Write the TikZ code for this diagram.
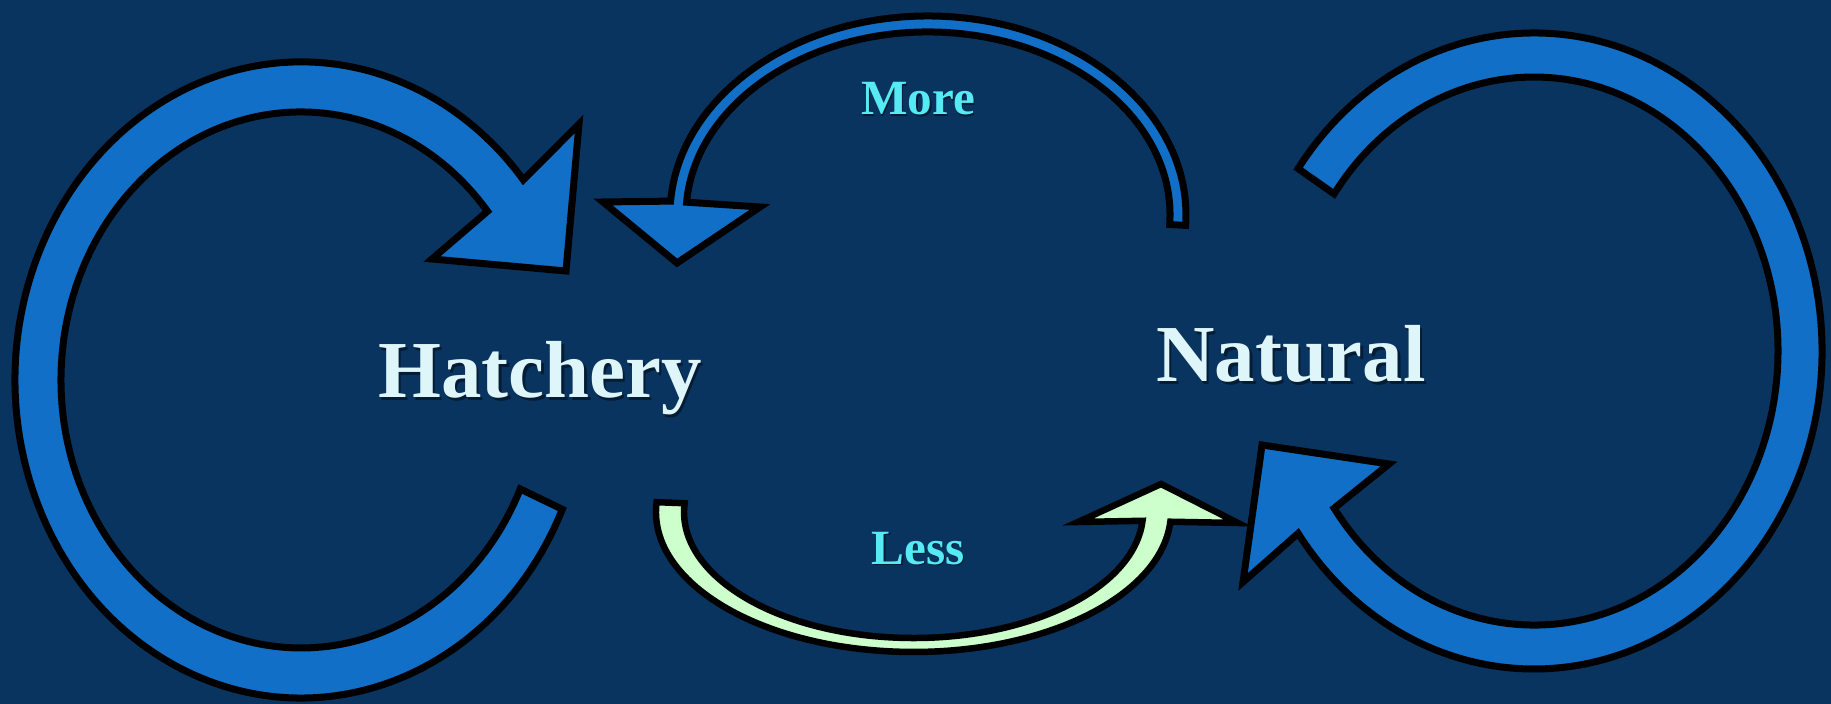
\documentclass[tikz,border=0pt]{standalone}
\usepackage{fontspec}
\setmainfont{Liberation Serif}
\definecolor{bgcol}{RGB}{9,52,96}
\definecolor{ringblue}{RGB}{17,111,199}
\definecolor{lessgreen}{RGB}{204,255,204}
\definecolor{labeltxt}{RGB}{222,246,250}
\definecolor{cyantxt}{RGB}{85,234,244}
\begin{document}
\begin{tikzpicture}[x=0.01cm,y=-0.01cm,
  ring/.style={draw=black, line width=0.7mm, line join=miter, fill=ringblue},
  lessarrow/.style={draw=black, line width=0.65mm, line join=miter, fill=lessgreen},
  bigtxt/.style={text=labeltxt, font=\fontsize{23}{27}\selectfont\bfseries, inner sep=0pt, anchor=base},
  smalltxt/.style={text=cyantxt, font=\fontsize{14}{17}\selectfont\bfseries, inner sep=0pt, anchor=base},
  shadowbig/.style={bigtxt, text=black, opacity=0.45},
  shadowsmall/.style={smalltxt, text=black, opacity=0.45}]
\fill[bgcol] (0,0) rectangle (1831,704);
\useasboundingbox (0,0) rectangle (1831,704);

% Less arrow (Hatchery -> Natural, bottom)
\draw[lessarrow] (656.6,502.2) arc[start angle=184, end angle=4, x radius=257.5, y radius=140]
  -- (1238,523) -- (1161,484) -- (1078,522) -- (1142.5,520.8)
  arc[start angle=4, end angle=184, x radius=229.5, y radius=126] -- cycle;

% More arrow (Natural -> Hatchery, top)
\draw[ring] (1185.6,225.4) arc[start angle=3, end angle=-176, x radius=258, y radius=199]
  -- (603,202) -- (677,263) -- (760,207) -- (686.6,202.2)
  arc[start angle=-176, end angle=3, x radius=242, y radius=183] -- cycle;

% Hatchery loop
\draw[ring] (562.3,509.3) arc[start angle=24, end angle=321, x radius=286, y radius=318]
  -- (579,124) -- (566,271) -- (432,259) -- (487.5,211.3)
  arc[start angle=321, end angle=24, x radius=240, y radius=268] -- cycle;

% Natural loop
\draw[ring] (1298.1,168.6) arc[start angle=215, end angle=505, x radius=288, y radius=318]
  -- (1243,582) -- (1262,445) -- (1389,464) -- (1334.1,508.2)
  arc[start angle=505, end angle=215, x radius=244, y radius=274] -- cycle;

% Labels
\node[shadowbig] (hatcheryshadow) at (542.5,400.5) {Hatchery};
\node[bigtxt] (hatchery) at (540,398) {Hatchery};
\node[shadowbig] (naturalshadow) at (1293.5,384.5) {Natural};
\node[bigtxt] (natural) at (1291,382) {Natural};
\node[shadowsmall] (moreshadow) at (919.5,116.5) {More};
\node[smalltxt] (more) at (918,115) {More};
\node[shadowsmall] (lessshadow) at (919.5,565.5) {Less};
\node[smalltxt] (less) at (918,564) {Less};
\end{tikzpicture}
\end{document}
